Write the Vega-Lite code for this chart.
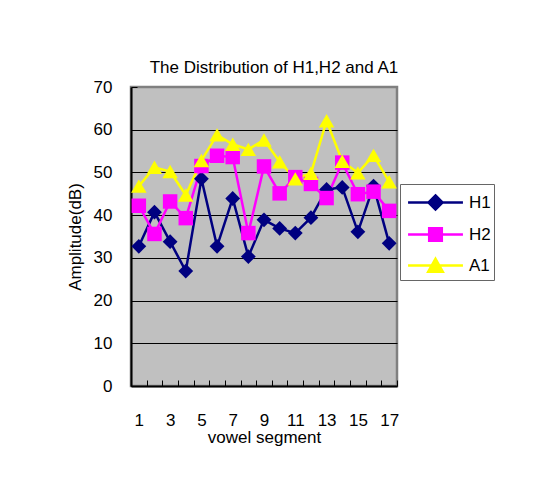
{
  "$schema": "https://vega.github.io/schema/vega-lite/v6.json",
  "width": 266,
  "height": 299,
  "autosize": {"type": "none"},
  "padding": {"left": 131, "top": 87, "right": 136, "bottom": 97},
  "background": "white",
  "title": {"text": "The Distribution of H1,H2 and A1", "fontSize": 17, "fontWeight": "normal", "font": "Liberation Sans", "color": "black", "anchor": "middle", "offset": 1, "dx": 10},
  "data": {"values": [
    {"seg": 1, "series": "H1", "value": 32.7},
    {"seg": 2, "series": "H1", "value": 40.7},
    {"seg": 3, "series": "H1", "value": 33.8},
    {"seg": 4, "series": "H1", "value": 26.9},
    {"seg": 5, "series": "H1", "value": 48.5},
    {"seg": 6, "series": "H1", "value": 32.7},
    {"seg": 7, "series": "H1", "value": 43.9},
    {"seg": 8, "series": "H1", "value": 30.3},
    {"seg": 9, "series": "H1", "value": 38.9},
    {"seg": 10, "series": "H1", "value": 36.9},
    {"seg": 11, "series": "H1", "value": 35.8},
    {"seg": 12, "series": "H1", "value": 39.4},
    {"seg": 13, "series": "H1", "value": 46.0},
    {"seg": 14, "series": "H1", "value": 46.5},
    {"seg": 15, "series": "H1", "value": 36.1},
    {"seg": 16, "series": "H1", "value": 46.8},
    {"seg": 17, "series": "H1", "value": 33.4},
    {"seg": 1, "series": "H2", "value": 42.2},
    {"seg": 2, "series": "H2", "value": 35.6},
    {"seg": 3, "series": "H2", "value": 43.2},
    {"seg": 4, "series": "H2", "value": 39.3},
    {"seg": 5, "series": "H2", "value": 51.5},
    {"seg": 6, "series": "H2", "value": 53.9},
    {"seg": 7, "series": "H2", "value": 53.6},
    {"seg": 8, "series": "H2", "value": 35.8},
    {"seg": 9, "series": "H2", "value": 51.4},
    {"seg": 10, "series": "H2", "value": 45.1},
    {"seg": 11, "series": "H2", "value": 48.9},
    {"seg": 12, "series": "H2", "value": 47.3},
    {"seg": 13, "series": "H2", "value": 44.0},
    {"seg": 14, "series": "H2", "value": 52.3},
    {"seg": 15, "series": "H2", "value": 44.9},
    {"seg": 16, "series": "H2", "value": 45.5},
    {"seg": 17, "series": "H2", "value": 41.0},
    {"seg": 1, "series": "A1", "value": 46.8},
    {"seg": 2, "series": "A1", "value": 51.2},
    {"seg": 3, "series": "A1", "value": 50.2},
    {"seg": 4, "series": "A1", "value": 44.7},
    {"seg": 5, "series": "A1", "value": 52.8},
    {"seg": 6, "series": "A1", "value": 58.8},
    {"seg": 7, "series": "A1", "value": 56.6},
    {"seg": 8, "series": "A1", "value": 55.4},
    {"seg": 9, "series": "A1", "value": 57.6},
    {"seg": 10, "series": "A1", "value": 52.5},
    {"seg": 11, "series": "A1", "value": 48.5},
    {"seg": 12, "series": "A1", "value": 49.8},
    {"seg": 13, "series": "A1", "value": 62.1},
    {"seg": 14, "series": "A1", "value": 52.6},
    {"seg": 15, "series": "A1", "value": 49.9},
    {"seg": 16, "series": "A1", "value": 54.0},
    {"seg": 17, "series": "A1", "value": 47.8}
  ]},
  "encoding": {
    "x": {
      "field": "seg", "type": "quantitative",
      "scale": {"domain": [0.5, 17.5], "nice": false, "zero": false},
      "axis": {
        "values": [0.5, 1.5, 2.5, 3.5, 4.5, 5.5, 6.5, 7.5, 8.5, 9.5, 10.5, 11.5, 12.5, 13.5, 14.5, 15.5, 16.5, 17.5],
        "labelExpr": "((datum.value - 0.5) % 2 == 0 && datum.value < 17) ? format(datum.value + 0.5, 'd') : ''",
        "labelOffset": 7.82,
        "labelOverlap": false, "labelBound": false, "labelFlush": false,
        "tickSize": -6, "tickColor": "black", "tickWidth": 1,
        "domainColor": "black", "domainWidth": 2,
        "grid": false,
        "labelFontSize": 17, "labelFont": "Liberation Sans", "labelColor": "black", "labelPadding": 32,
        "title": "vowel segment", "titleFontSize": 17, "titleFont": "Liberation Sans", "titleFontWeight": "normal", "titleColor": "black", "titlePadding": 1
      }
    },
    "y": {
      "field": "value", "type": "quantitative",
      "scale": {"domain": [0, 70], "nice": false},
      "axis": {
        "values": [0, 10, 20, 30, 40, 50, 60, 70],
        "tickSize": -6, "tickColor": "black",
        "domainColor": "black", "domainWidth": 2,
        "grid": true, "gridColor": "black", "gridWidth": 1,
        "gridOpacity": {"condition": {"test": "datum.value == 70 || datum.value == 0", "value": 0}, "value": 1},
        "labelFontSize": 17, "labelFont": "Liberation Sans", "labelColor": "black", "labelPadding": 25,
        "title": "Amplitude(dB)", "titleFontSize": 17, "titleFont": "Liberation Sans", "titleFontWeight": "normal", "titleColor": "black", "titlePadding": 9
      }
    },
    "color": {
      "field": "series", "type": "nominal",
      "scale": {"domain": ["H1", "H2", "A1"], "range": ["#000080", "#FF00FF", "#FFFF00"]},
      "legend": {
        "orient": "none", "legendX": 269, "legendY": 97,
        "title": null,
        "fillColor": "white", "strokeColor": "#666666",
        "padding": 3, "symbolSize": 784, "rowPadding": 4,
        "symbolOffset": 17, "labelOffset": 18,
        "labelFontSize": 17, "labelFont": "Liberation Sans", "labelColor": "black",
        "encode": {
          "symbols": {
            "update": {
              "shape": {"signal": "datum.value == 'H1' ? 'M-1.96,0H1.96M0,-0.5L0.5,0L0,0.5L-0.5,0Z' : datum.value == 'H2' ? 'M-1.96,0H1.96M-0.45,-0.45H0.45V0.45H-0.45Z' : 'M-1.96,0H1.96M0,-0.48L0.52,0.44H-0.52Z'"},
              "fill": {"signal": "scale('color', datum.value)"},
              "stroke": {"signal": "scale('color', datum.value)"},
              "strokeWidth": {"value": 2.5},
              "opacity": {"value": 1},
              "fillOpacity": {"value": 1},
              "strokeOpacity": {"value": 1}
            }
          }
        }
      }
    }
  },
  "layer": [
    {"mark": {"type": "line", "strokeWidth": 2.5}},
    {"transform": [{"filter": "datum.series == 'H1'"}], "mark": {"type": "point", "shape": "diamond", "filled": true, "size": 220, "opacity": 1}},
    {"transform": [{"filter": "datum.series == 'H2'"}], "mark": {"type": "point", "shape": "square", "filled": true, "size": 210, "opacity": 1}},
    {"transform": [{"filter": "datum.series == 'A1'"}], "mark": {"type": "point", "shape": "triangle-up", "filled": true, "size": 240, "opacity": 1}}
  ],
  "config": {
    "view": {"fill": "#C0C0C0", "stroke": "#808080", "strokeWidth": 2.5},
    "font": "Liberation Sans"
  }
}
